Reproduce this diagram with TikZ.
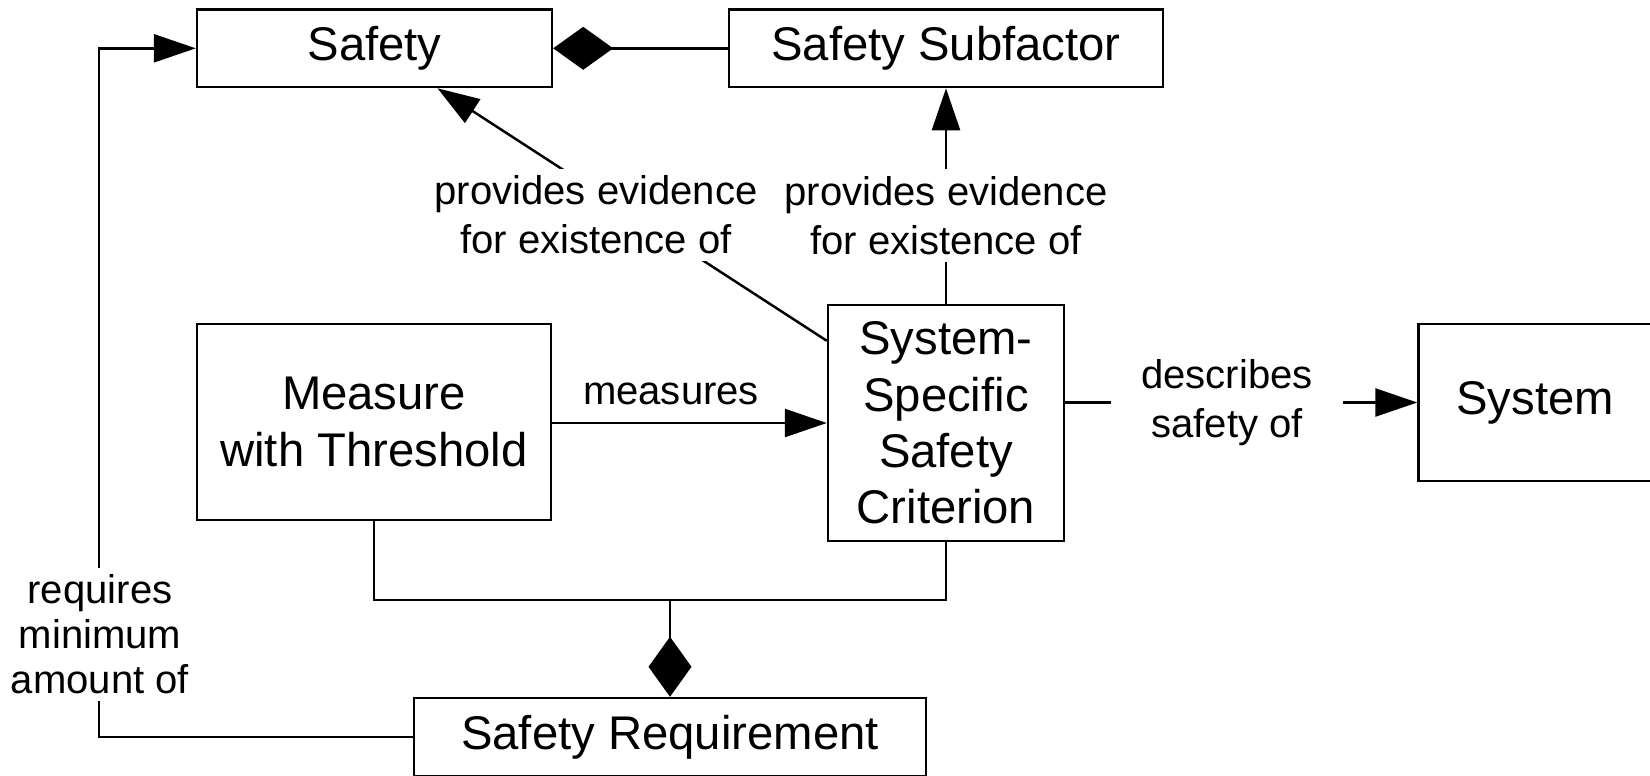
\documentclass[tikz,border=0pt]{standalone}
\usepackage{fontspec}
\setmainfont{Liberation Sans}
\usetikzlibrary{arrows.meta}

\tikzset{
  box/.style={draw, inner sep=0pt, align=center, font=\fontsize{26.9}{32}\selectfont},
  lbl/.style={fill=white, inner xsep=3pt, inner ysep=4pt, align=center, font=\fontsize{22.8}{28}\selectfont},
  arr/.style={-{Triangle[length=0.84cm,width=0.56cm]}},
  comp/.style={{Diamond[length=1.2cm,width=0.86cm]}-},
}

\begin{document}
\begin{tikzpicture}[x=0.02cm,y=-0.02cm,line width=1.4pt]
				\useasboundingbox (0,0) rectangle (1650,775);
				\clip (0,0) rectangle (1650,775);

				% top row
				\node[box,minimum width=7.1cm,minimum height=1.55cm] (safety) at (374.5,48.3) {Safety};
				\node[box,minimum width=8.68cm,minimum height=1.55cm] (subfac) at (946,48.3) {Safety Subfactor};
				\draw[comp] (safety.east) -- (subfac.west);

				% middle row
				\node[box,minimum width=7.08cm,minimum height=3.92cm] (measure) at (374,422) {Measure\\with Threshold};
				\node[box,minimum width=4.72cm,minimum height=4.72cm] (crit) at (946,423) {System-\\Specific\\Safety\\Criterion};
				\node[box,minimum width=4.66cm,minimum height=3.14cm] (system) at (1535,402.5) {System};

				% bottom
				\node[box,minimum width=10.24cm,minimum height=1.56cm] (req) at (670,737) {Safety Requirement};

				\draw[arr] (measure.east |- 0,423) -- (crit.west);
				\node[lbl] (lmeas) at (671,394) {measures};

				\node[lbl,inner sep=0pt,minimum width=4.6cm] (ldesc) at (1227,402.5) {describes\\safety of};
				\draw (crit.east |- system.west) -- (ldesc.west |- system.west);
				\draw[arr] (ldesc.east |- system.west) -- (system.west);

				\draw[arr] (crit.north) -- node[lbl,pos=0.41]{provides evidence\\for existence of} (subfac.south);

				\draw[arr] ([yshift=-0.74cm]crit.north west) -- ([xshift=1.26cm]safety.south);
				\node[lbl] (levid) at (596,215) {provides evidence\\for existence of};

				% composition of requirement
				\coordinate (join) at (670,600);
				\draw (measure.south) |- (join) -| (crit.south);
				\draw[comp] (req.north) -- (join);

				% requirement back to safety
				\coordinate (ret) at (99,48.3);
				\draw[arr] (req.west) -| (ret) -- (safety.west);
				\node[lbl,font=\fontsize{22.8}{25.6}\selectfont] (lreq) at (100,634.5) {requires\\minimum\\amount of};
			\end{tikzpicture}
\end{document}
